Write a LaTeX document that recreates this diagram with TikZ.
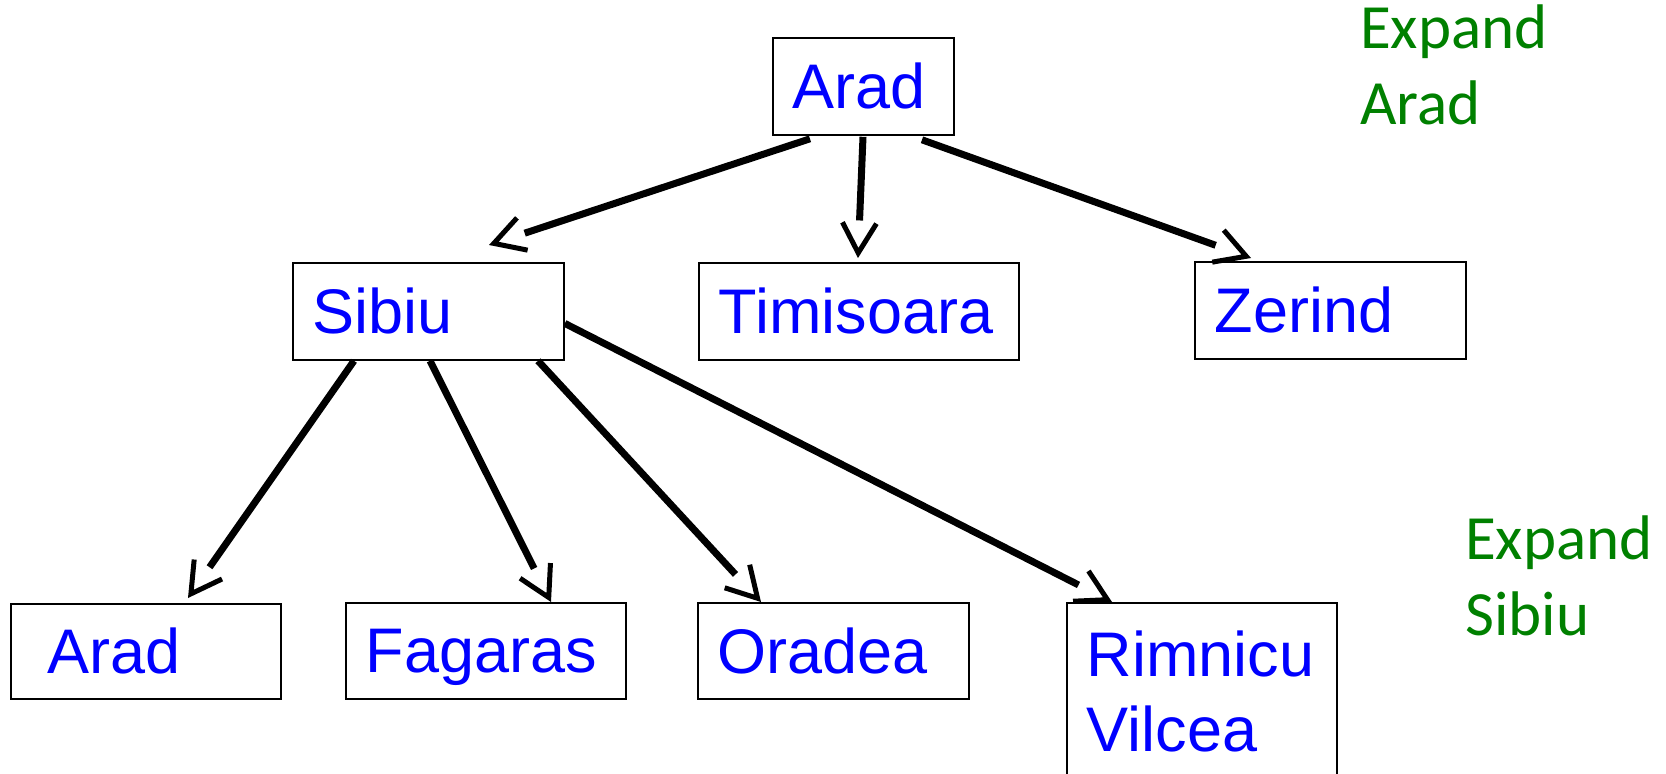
\documentclass[tikz,border=0pt]{standalone}
\usepackage{fontspec}
\setmainfont{Liberation Sans}
\newfontfamily\notefont{Carlito}
\usepackage{xcolor}
\usetikzlibrary{arrows.meta}
\definecolor{notegreen}{RGB}{0,128,0}
\tikzset{
  city/.style={draw,line width=1.8pt,rectangle,anchor=north west,align=left,
    text=blue,font=\fontsize{63}{75}\selectfont,
    inner xsep=20pt,inner ysep=0pt,minimum height=97pt},
  note/.style={anchor=north west,align=left,inner sep=0pt,
    text=notegreen,font=\notefont\fontsize{63}{76}\selectfont},
  expansion/.style={
    -{. Straight Barb[length=30pt,width=34pt,line width=5pt]},line width=7pt
  }
}

\begin{document}
\begin{tikzpicture}[x=1pt,y=-1pt]
  \clip (0,0) rectangle (1666,774);
  % search tree
  \node[city,text width=141pt] (aradA) at (772,37) {Arad};
  \node[city,text width=231pt] (sibiu) at (292,262) {Sibiu};
  \node[city,text width=280pt] (timisoara) at (698,262) {Timisoara};
  \node[city,text width=231pt] (zerind) at (1194,261) {Zerind};
  \node[city,text width=230pt,minimum height=95pt] (aradB) at (10,603) {\hspace*{17pt}Arad};
  \node[city,text width=240pt,minimum height=96pt,text depth=0pt] (fagaras) at (345,602) {Fagaras};
  \node[city,text width=231pt,minimum height=96pt] (oradea) at (697,602) {Oradea};
  \node[city,text width=230pt,minimum height=178pt] (rimnicu) at (1066,602) {Rimnicu\\Vilcea};
  % notes
  \node[note] (expandArad) at (1360,5) {Expand\\Arad};
  \node[note] (expandSibiu) at (1465,516) {Expand\\Sibiu};
  % expansions
  \draw[expansion] ([shift={(38,3)}]aradA.south west) -- ([shift={(197,-17)}]sibiu.north west);
  \draw[expansion] ([shift={(91,1)}]aradA.south west) -- ([shift={(160,-4)}]timisoara.north west);
  \draw[expansion] ([shift={(150,4)}]aradA.south west) -- ([shift={(57,-3)}]zerind.north west);
  \draw[expansion] ([shift={(62,0)}]sibiu.south west) -- ([shift={(178,-5)}]aradB.north west);
  \draw[expansion] ([shift={(138,0)}]sibiu.south west) -- ([shift={(206,0)}]fagaras.north west);
  \draw[expansion] ([shift={(246,0)}]sibiu.south west) -- ([shift={(64,0)}]oradea.north west);
  \draw[expansion] ([shift={(0,12)}]sibiu.east) -- ([shift={(46,0)}]rimnicu.north west);
\end{tikzpicture}
\end{document}
